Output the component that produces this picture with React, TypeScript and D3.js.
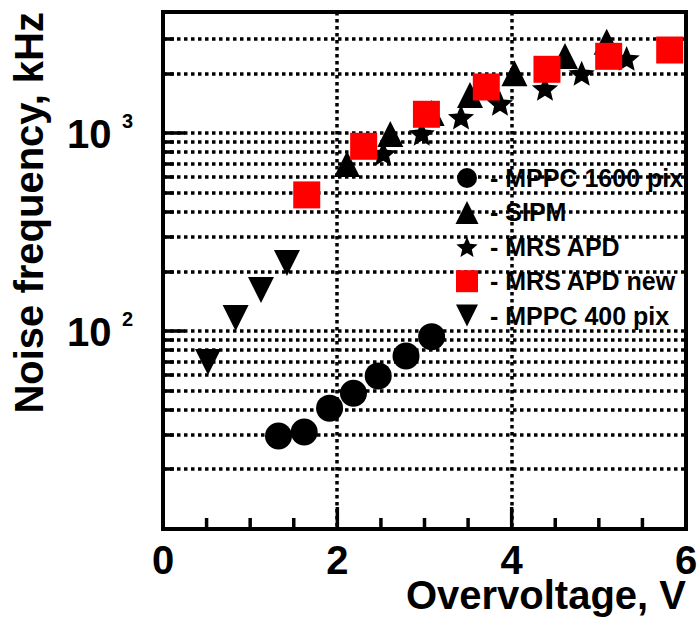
import React from 'react';
import * as d3 from 'd3';

const W = 699;
const H = 621;

// ---- data (x: overvoltage V, y: noise frequency kHz) ----
const mppc1600X = [1.325, 1.62, 1.911, 2.185, 2.469, 2.788, 3.082];
const mppc1600Y = [29.5, 30.9, 40.8, 48.5, 59.4, 74.9, 93.8];

const sipmX = [2.111, 2.608, 3.082, 3.522, 4.032, 4.612, 5.09];
const sipmY = [700, 991, 1266, 1561, 2010, 2457, 2902];

const mrsX = [2.527, 2.968, 3.419, 3.866, 4.382, 4.803, 5.319];
const mrsY = [792, 1000, 1208, 1418, 1688, 2010, 2392];

const mrsNewX = [1.649, 2.302, 3.022, 3.709, 4.405, 5.113, 5.813];
const mrsNewY = [488, 859, 1247, 1713, 2105, 2448, 2634];

const mppc400X = [0.516, 0.833, 1.124, 1.422];
const mppc400Y = [69.9, 116.6, 161.5, 221];

const legendLabels = ['- MPPC 1600 pix', '- SIPM', '- MRS APD', '- MRS APD new', '- MPPC 400 pix'];
const legendShapes = ['circle', 'triUp', 'star', 'square', 'triDown'];
const legendColors = ['#000', '#000', '#000', '#ff0000', '#000'];

const xMajorTicks = [0, 2, 4, 6];
const xMinorTicks = [0.5, 1, 1.5, 2.5, 3, 3.5, 4.5, 5, 5.5];
const xGrid = [2, 4];
const yMajorTicks = [100, 1000];
const yMajorExp = ['2', '3'];
const yMinorTicks = [20, 30, 40, 50, 60, 70, 80, 90, 200, 300, 400, 500, 600, 700, 800, 900, 2000, 3000];

const xTitle = 'Overvoltage, V';
const yTitle = 'Noise frequency, kHz';

// ---- layout ----
const left = 163, right = 686, top = 12, bottom = 529;
const x = d3.scaleLinear().domain([0, 6]).range([left, right]);
const y = d3.scaleLog().domain([10, 4100]).range([bottom, top]);

const FONT = '"Liberation Sans", Arial, Helvetica, sans-serif';

function shapePath(kind: string, s: number): string {
  const h = s / 2;
  switch (kind) {
    case 'circle':
      return d3.symbol(d3.symbolCircle, Math.PI * h * h)() as string;
    case 'square':
      return d3.symbol(d3.symbolSquare, s * s)() as string;
    case 'triUp': {
      const p = d3.path();
      p.moveTo(0, -h); p.lineTo(h, h); p.lineTo(-h, h); p.closePath();
      return p.toString();
    }
    case 'triDown': {
      const p = d3.path();
      p.moveTo(-h, -h); p.lineTo(h, -h); p.lineTo(0, h); p.closePath();
      return p.toString();
    }
    case 'star': {
      const R = h * 1.02;
      const r = R * 0.45;
      const p = d3.path();
      for (let i = 0; i < 10; i++) {
        const a = -Math.PI / 2 + (i * Math.PI) / 5;
        const rr = i % 2 === 0 ? R : r;
        const px = rr * Math.cos(a);
        const py = rr * Math.sin(a) + R * 0.1;
        if (i === 0) p.moveTo(px, py); else p.lineTo(px, py);
      }
      p.closePath();
      return p.toString();
    }
  }
  return '';
}

function Series({ xs, ys, kind, size, color }: { xs: number[]; ys: number[]; kind: string; size: number; color: string }) {
  const d = shapePath(kind, size);
  return (
    <g>
      {xs.map((v, i) => (
        <path key={i} d={d} transform={`translate(${x(v)},${y(ys[i])})`} fill={color} />
      ))}
    </g>
  );
}

export default function App() {
  const allY = [...yMinorTicks, ...yMajorTicks];
  const legendX = 467;
  const legendY0 = 178;
  const legendStep = 34.4;
  const legendSizes = [20, 23, 22, 22, 22];
  return (
    <svg width={W} height={H} style={{ position: 'absolute', left: 0, top: 0, background: '#fff' }} fontFamily={FONT}>
      <rect x={0} y={0} width={W} height={H} fill="#fff" />
      {/* grid */}
      <g stroke="#000" strokeWidth={3.5} strokeDasharray="3.5,3.5">
        {allY.map((v) => (
          <line key={'gy' + v} x1={left} x2={right} y1={Math.round(y(v))} y2={Math.round(y(v))} />
        ))}
        {xGrid.map((v) => (
          <line key={'gx' + v} x1={Math.round(x(v))} x2={Math.round(x(v))} y1={top} y2={bottom} />
        ))}
      </g>
      {/* ticks */}
      <g stroke="#000" strokeWidth={3.5}>
        {yMajorTicks.map((v) => (
          <line key={'ymt' + v} x1={left} x2={left + 22} y1={Math.round(y(v))} y2={Math.round(y(v))} />
        ))}
        {yMinorTicks.map((v) => (
          <line key={'ymn' + v} x1={left} x2={left + 11} y1={Math.round(y(v))} y2={Math.round(y(v))} />
        ))}
        {xMajorTicks.map((v) => (
          <line key={'xmt' + v} x1={x(v)} x2={x(v)} y1={bottom} y2={bottom - 22} />
        ))}
        {xMinorTicks.map((v) => (
          <line key={'xmn' + v} x1={x(v)} x2={x(v)} y1={bottom} y2={bottom - 11} />
        ))}
      </g>
      {/* frame */}
      <rect x={left} y={top} width={right - left} height={bottom - top} fill="none" stroke="#000" strokeWidth={4} />

      {/* data */}
      <Series xs={mppc1600X} ys={mppc1600Y} kind="circle" size={27} color="#000" />
      <Series xs={sipmX} ys={sipmY} kind="triUp" size={26} color="#000" />
      <Series xs={mrsX} ys={mrsY} kind="star" size={27} color="#000" />
      <Series xs={mppc400X} ys={mppc400Y} kind="triDown" size={26} color="#000" />
      <Series xs={mrsNewX} ys={mrsNewY} kind="square" size={27} color="#ff0000" />

      {/* legend */}
      <g>
        {legendLabels.map((lab, i) => {
          const cy = legendY0 + i * legendStep;
          return (
            <g key={lab}>
              <path d={shapePath(legendShapes[i], legendSizes[i])} transform={`translate(${legendX},${cy})`} fill={legendColors[i]} />
              <text x={490} y={cy + 9} fontSize={25} fontWeight="bold" fill="#000">{lab}</text>
            </g>
          );
        })}
      </g>

      {/* x tick labels */}
      <g fontSize={40} fontWeight="bold" textAnchor="middle">
        {xMajorTicks.map((v) => (
          <text key={'xl' + v} x={x(v)} y={574}>{String(v)}</text>
        ))}
      </g>
      {/* y tick labels */}
      <g fontWeight="bold">
        {yMajorTicks.map((v, i) => (
          <g key={'yl' + v}>
            <text x={111.5} y={y(v) + 14.5} fontSize={40} textAnchor="end">10</text>
            <text x={122} y={y(v) - 5.5} fontSize={20}>{yMajorExp[i]}</text>
          </g>
        ))}
      </g>
      {/* titles */}
      <text x={right} y={609} fontSize={40} fontWeight="bold" textAnchor="end">{xTitle}</text>
      <text transform={`translate(43.3,${top}) rotate(-90)`} fontSize={40} fontWeight="bold" textAnchor="end">{yTitle}</text>
    </svg>
  );
}
